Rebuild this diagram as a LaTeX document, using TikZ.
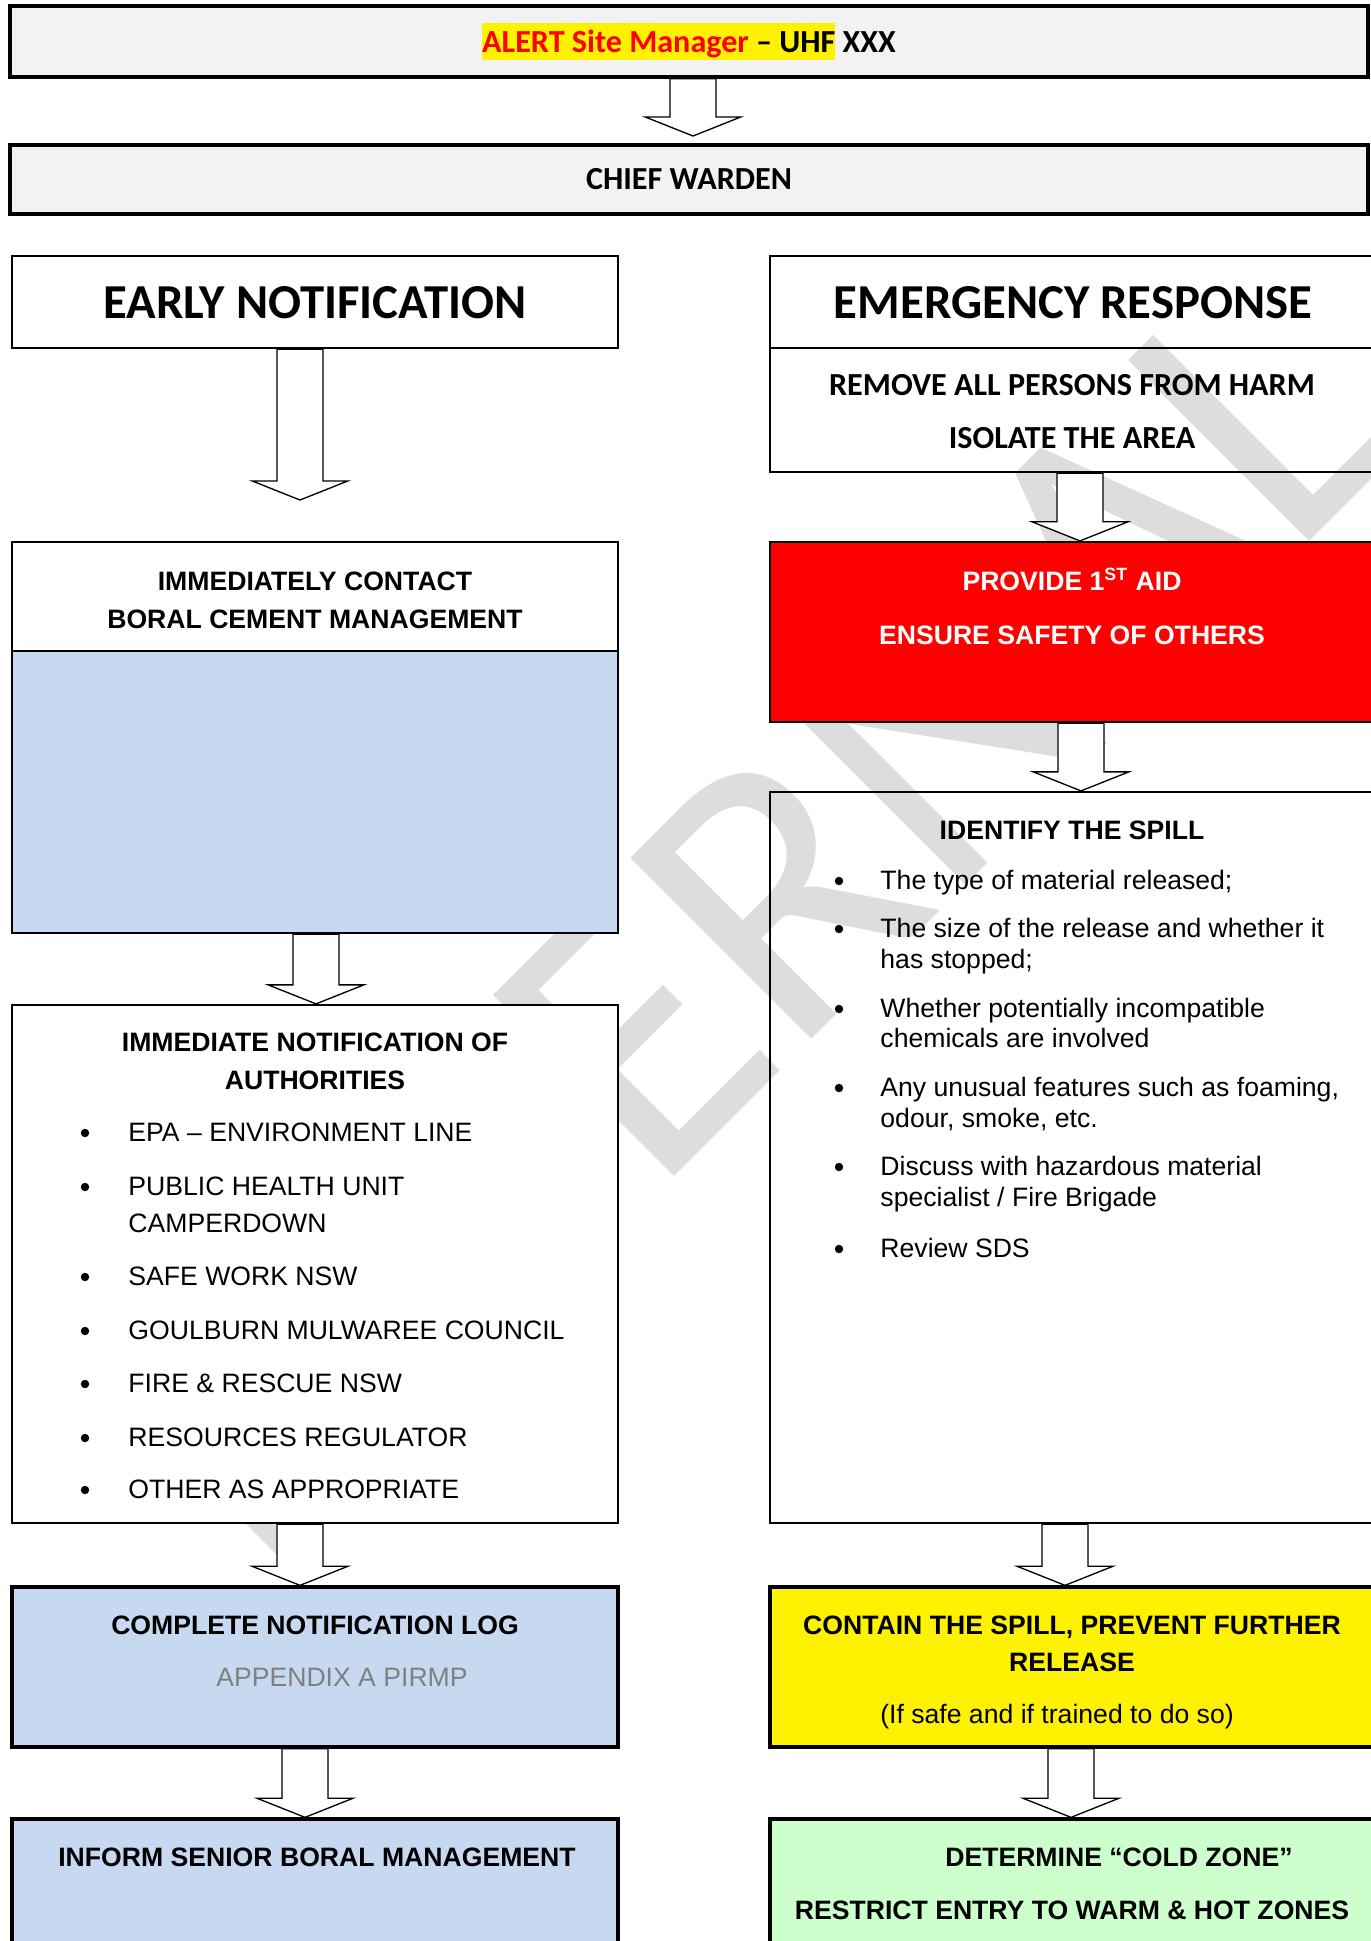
\documentclass[tikz,border=0pt]{standalone}
\usepackage{fontspec}
\setmainfont{Liberation Sans}
\newfontfamily\calibri{Carlito}
\usetikzlibrary{calc,fit}
\setlength{\fboxsep}{0pt}

\definecolor{boxgray}{HTML}{F2F2F2}
\definecolor{boxblue}{HTML}{C6D9F1}
\definecolor{zonegreen}{HTML}{CCFFCC}
\definecolor{wmgray}{HTML}{DDDDDD}
\definecolor{refgray}{HTML}{808080}

\tikzset{
  box/.style={draw=black, line width=1pt, inner sep=0pt},
  topbox/.style={box, line width=1.5pt, fill=boxgray},
  whitebox/.style={box, fill=white},
  openbox/.style={box},
  bluebox/.style={box, fill=boxblue},
  redbox/.style={box, fill=red},
  yellowbox/.style={box, line width=1.5pt, fill=yellow},
  greenbox/.style={box, line width=1.5pt, fill=zonegreen},
  hdg/.style={font=\calibri\bfseries\fontsize{22}{26}\selectfont, inner sep=0pt},
  cal/.style={font=\calibri\bfseries\fontsize{14.5}{17}\selectfont, inner sep=0pt},
  txt/.style={font=\fontsize{12}{14}\selectfont, inner sep=0pt, anchor=base},
  btxt/.style={txt, font=\bfseries\fontsize{12}{14}\selectfont},
  ltxt/.style={txt, anchor=base west},
  bull/.style={circle, fill=black, inner sep=0pt, minimum size=3.8pt},
  wmark/.style={font=\calibri\fontsize{180}{200}\selectfont, text=wmgray,
    inner sep=0pt, rotate=45, anchor=base west},
  blockarr/.style={draw=black, line width=0.6pt, fill=white,
    to path={let \p1=(\tikztostart), \p2=(\tikztotarget) in
      (\x1-10.4pt,\y1) -- (\x1-10.4pt,\y2+8.6pt) -- (\x1-21.6pt,\y2+8.6pt)
      -- (\x1,\y2) -- (\x1+21.6pt,\y2+8.6pt) -- (\x1+10.4pt,\y2+8.6pt)
      -- (\x1+10.4pt,\y1) -- cycle}}
}

\begin{document}
\begin{tikzpicture}[x=0.451pt,y=-0.451pt]
  \useasboundingbox (0,0) rectangle (1370,1941);
  % watermark, behind everything
  \begin{scope}
    \clip (0,0) rectangle (1370,1941);
    \node[wmark] (wm) at (263,1588) {INTERNAL};
  \end{scope}

  % head of the chart
  \node[topbox, fit={(10,6) (1368,77)}] (alert) {};
  \node[cal] (alertt) at (alert) {\colorbox{yellow}{\rule[-3.6pt]{0pt}{17.1pt}\textcolor{red}{ALERT Site Manager} – UHF} XXX};
  \node[topbox, fit={(10,145) (1368,214)}] (chief) {};
  \node[cal] (chieft) at (chief) {CHIEF WARDEN};

  % left column
  \node[whitebox, fit={(12,256) (618,348)}] (early) {};
  \node[hdg] (earlyt) at ([yshift=-0.5pt]early.center) {EARLY NOTIFICATION};
  \node[whitebox, fit={(12,542) (618,651)}] (contact) {};
  \node[bluebox, fit={(12,651) (618,933)}] (contactb) {};
  \node[btxt] (contact1) at (315,590) {IMMEDIATELY CONTACT};
  \node[btxt] (contact2) at (315,628) {BORAL CEMENT MANAGEMENT};
  \node[whitebox, fit={(12,1005) (618,1523)}] (auth) {};
  \node[btxt] (auth1) at (315,1051) {IMMEDIATE NOTIFICATION OF};
  \node[btxt] (auth2) at (315,1089) {AUTHORITIES};
  \foreach \y/\t [count=\i] in {1141/EPA – ENVIRONMENT LINE, 1195/PUBLIC HEALTH UNIT,
      1232/CAMPERDOWN, 1285/SAFE WORK NSW, 1339/GOULBURN MULWAREE COUNCIL,
      1392/FIRE \& RESCUE NSW, 1446/RESOURCES REGULATOR, 1498/OTHER AS APPROPRIATE}
    \node[ltxt] (authl\i) at (128,\y) {\t};
  \foreach \y [count=\i] in {1141,1195,1285,1339,1392,1446,1498}
    \node[bull] (authb\i) at (85,\y-8) {};
  \node[bluebox, line width=1.5pt, fit={(12,1587) (618,1747)}] (log) {};
  \node[btxt] (log1) at (315,1634) {COMPLETE NOTIFICATION LOG};
  \node[txt, text=refgray] (log2) at (342,1686) {APPENDIX A PIRMP};
  \node[bluebox, line width=1.5pt, fit={(12,1819) (618,1960)}] (inform) {};
  \node[btxt] (inform1) at (317,1866) {INFORM SENIOR BORAL MANAGEMENT};

  % right column
  \node[openbox, fit={(770,256) (1376,348)}] (emerg) {};
  \node[hdg] (emergt) at ([yshift=-0.5pt]emerg.center) {EMERGENCY RESPONSE};
  \node[openbox, fit={(770,348) (1376,472)}] (remove) {};
  \node[cal, anchor=base] (remove1) at (1072,395) {REMOVE ALL PERSONS FROM HARM};
  \node[cal, anchor=base] (remove2) at (1072,448) {ISOLATE THE AREA};
  \node[redbox, fit={(770,542) (1376,722)}] (aid) {};
  \node[btxt, text=white] (aid1) at (1072,590) {PROVIDE 1\textsuperscript{ST} AID};
  \node[btxt, text=white] (aid2) at (1072,644) {ENSURE SAFETY OF OTHERS};
  \node[openbox, fit={(770,792) (1376,1523)}] (spill) {};
  \node[btxt] (spill0) at (1072,839) {IDENTIFY THE SPILL};
  \foreach \y/\t [count=\i] in {889/The type of material released;,
      937/The size of the release and whether it, 968/has stopped;,
      1017/Whether potentially incompatible, 1047/chemicals are involved,
      1096/{Any unusual features such as foaming,}, 1127/{odour, smoke, etc.},
      1175/Discuss with hazardous material, 1206/{specialist / Fire Brigade},
      1257/Review SDS}
    \node[ltxt] (spilll\i) at (880,\y) {\t};
  \foreach \y [count=\i] in {889,937,1017,1096,1175,1257}
    \node[bull] (spillb\i) at (839,\y-8) {};
  \node[yellowbox, fit={(770,1587) (1376,1747)}] (contain) {};
  \node[btxt] (contain1) at (1072,1634) {CONTAIN THE SPILL, PREVENT FURTHER};
  \node[btxt] (contain2) at (1072,1671) {RELEASE};
  \node[txt] (contain3) at (1057,1723) {(If safe and if trained to do so)};
  \node[greenbox, fit={(770,1819) (1376,1960)}] (zone) {};
  \node[btxt] (zone1) at (1119,1866) {DETERMINE “COLD ZONE”};
  \node[btxt] (zone2) at (1072,1919) {RESTRICT ENTRY TO WARM \& HOT ZONES};

  % block arrows
  \coordinate (tip1) at (693,136);
  \coordinate (tip2) at (300,500);
  \draw[blockarr] (alert.south -| 693,0) to (tip1);
  \draw[blockarr] (early.south -| 300,0) to (tip2);
  \draw[blockarr] (contactb.south -| 316,0) to (auth.north -| 316,0);
  \draw[blockarr] (auth.south -| 300,0) to (log.north -| 300,0);
  \draw[blockarr] (log.south -| 305,0) to (inform.north -| 305,0);
  \draw[blockarr] (remove.south -| 1080,0) to (aid.north -| 1080,0);
  \draw[blockarr] (aid.south -| 1081,0) to (spill.north -| 1081,0);
  \draw[blockarr] (spill.south -| 1065,0) to (contain.north -| 1065,0);
  \draw[blockarr] (contain.south -| 1071,0) to (zone.north -| 1071,0);
\end{tikzpicture}
\end{document}
